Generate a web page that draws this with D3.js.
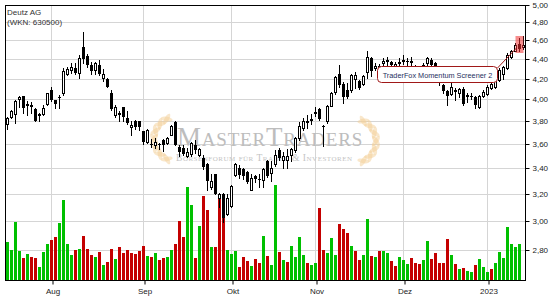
<!DOCTYPE html>
<html>
<head>
<meta charset="utf-8">
<script src="https://cdn.jsdelivr.net/npm/d3@7"></script>
<style>
  body { margin: 0; background: #fff; }
  svg { display: block; font-family: "Liberation Sans", Arial, sans-serif; }
</style>
</head>
<body>
<div id="chart"></div>
<script>
// Deutz AG daily candles, 15.07.2022 - 13.01.2023
var open = [
  3.77,3.835,3.86,4.005,4.03,3.96,3.95,3.91,3.86,3.86,
  3.96,4.09,3.995,4.025,4.06,4.25,4.29,4.31,4.255,4.53,
  4.43,4.34,4.29,4.34,4.205,4.20,4.06,3.855,3.87,3.925,
  3.83,3.745,3.80,3.80,3.715,3.615,3.60,3.595,3.60,3.635,
  3.605,3.68,3.795,3.575,3.57,3.495,3.515,3.595,3.505,3.485,
  3.43,3.255,3.35,3.165,3.20,3.05,3.11,3.345,3.405,3.395,
  3.37,3.23,3.335,3.31,3.305,3.46,3.36,3.43,3.55,3.465,
  3.465,3.505,3.55,3.65,3.74,3.79,3.815,3.875,3.91,3.76,
  3.80,3.94,4.07,4.245,4.145,4.09,4.09,4.195,4.18,4.145,
  4.27,4.41,4.305,4.31,4.36,4.38,4.37,4.33,4.36,4.39,
  4.38,4.38,4.32,4.30,4.34,4.36,4.39,4.36,4.27,4.14,
  4.08,4.05,4.09,4.06,4.10,4.04,4.03,4.02,3.93,4.03,
  4.05,4.11,4.12,4.19,4.25,4.31,4.42,4.49,4.56,4.53
];
var high = [
  3.84,3.90,3.99,4.03,4.03,3.985,3.98,3.915,3.87,3.95,
  4.065,4.12,3.995,4.04,4.31,4.32,4.36,4.36,4.44,4.69,
  4.45,4.37,4.37,4.39,4.30,4.21,4.09,3.95,3.89,3.925,
  3.89,3.80,3.81,3.80,3.715,3.73,3.645,3.65,3.61,3.645,
  3.66,3.765,3.80,3.595,3.59,3.565,3.62,3.635,3.565,3.505,
  3.44,3.355,3.35,3.205,3.205,3.20,3.265,3.445,3.425,3.40,
  3.375,3.355,3.345,3.35,3.40,3.465,3.455,3.55,3.565,3.535,
  3.555,3.57,3.66,3.795,3.83,3.855,3.86,3.93,3.92,3.765,
  3.95,4.075,4.23,4.34,4.17,4.155,4.25,4.265,4.19,4.24,
  4.49,4.42,4.355,4.35,4.41,4.42,4.38,4.37,4.41,4.44,
  4.41,4.42,4.34,4.33,4.36,4.42,4.41,4.37,4.28,4.15,
  4.09,4.17,4.11,4.11,4.115,4.06,4.06,4.03,4.04,4.09,
  4.14,4.18,4.21,4.31,4.33,4.46,4.50,4.57,4.63,4.65
];
var low = [
  3.73,3.83,3.78,3.93,3.87,3.855,3.875,3.80,3.80,3.855,
  3.95,3.985,3.92,3.92,4.04,4.24,4.26,4.245,4.205,4.36,
  4.32,4.245,4.245,4.24,4.18,4.12,3.90,3.84,3.80,3.80,
  3.77,3.68,3.73,3.72,3.60,3.61,3.575,3.565,3.56,3.54,
  3.60,3.675,3.595,3.495,3.51,3.49,3.495,3.52,3.50,3.395,
  3.225,3.235,3.195,3.10,2.995,3.045,3.10,3.34,3.32,3.315,
  3.28,3.225,3.29,3.255,3.255,3.33,3.30,3.415,3.465,3.405,
  3.405,3.455,3.53,3.635,3.72,3.735,3.77,3.85,3.81,3.58,
  3.785,3.935,4.05,4.115,3.965,4.015,4.075,4.11,4.10,4.14,
  4.21,4.23,4.29,4.29,4.33,4.34,4.31,4.30,4.33,4.35,
  4.33,4.32,4.27,4.27,4.31,4.34,4.33,4.29,4.14,4.06,
  3.95,4.04,3.99,4.02,3.95,3.98,4.00,3.92,3.92,4.02,
  4.04,4.10,4.11,4.18,4.20,4.30,4.41,4.48,4.48,4.51
];
var close = [
  3.83,3.89,3.985,4.02,3.92,3.94,3.925,3.80,3.845,3.915,
  4.06,3.995,3.955,4.015,4.28,4.30,4.32,4.255,4.41,4.40,
  4.34,4.28,4.355,4.245,4.245,4.12,3.91,3.93,3.875,3.835,
  3.78,3.765,3.75,3.75,3.615,3.72,3.59,3.615,3.59,3.595,
  3.655,3.755,3.595,3.53,3.515,3.535,3.61,3.55,3.555,3.41,
  3.30,3.30,3.20,3.195,3.02,3.165,3.26,3.435,3.345,3.335,
  3.29,3.325,3.31,3.305,3.395,3.335,3.405,3.505,3.48,3.495,
  3.50,3.555,3.655,3.755,3.80,3.805,3.82,3.88,3.815,3.755,
  3.94,4.06,4.215,4.135,4.025,4.025,4.235,4.24,4.105,4.225,
  4.42,4.275,4.33,4.33,4.38,4.39,4.34,4.35,4.37,4.37,
  4.37,4.36,4.30,4.31,4.33,4.41,4.34,4.31,4.16,4.08,
  4.03,4.12,4.075,4.10,3.96,4.02,4.025,3.95,4.03,4.07,
  4.115,4.15,4.19,4.29,4.32,4.44,4.49,4.55,4.51,4.55
];
// volume in 1000 shares, last day has none yet
var volume = [
  380,300,580,290,220,260,230,220,130,280,
  360,400,430,570,800,360,250,300,310,440,
  310,250,230,280,150,180,310,210,330,270,
  300,270,260,290,340,240,230,270,200,220,
  230,300,360,590,430,930,750,220,540,840,
  700,330,330,840,630,300,260,290,130,230,
  190,140,210,170,440,240,150,950,280,200,
  180,340,230,430,250,170,150,170,720,300,
  270,420,250,560,510,470,340,290,200,250,
  610,240,230,290,290,270,190,140,230,200,
  160,220,170,160,200,390,210,270,170,170,
  410,250,160,110,120,90,80,150,210,130,
  80,110,170,280,220,530,360,330,360,0
];
// g = up day, r = down day (volume colour)
var volDir = "ggggrgrrgg" + "grrggggrgr" + "rrgrgrrgrr" + "rrrrrgrgrr" + "ggrrrggrgr" +
             "rgrrrgggrr" + "rgrrgrggrg" + "rggggrggrr" + "gggrrrgrrg" + "grgrggrrgg" +
             "grrrggrrrr" + "rgrgrggrgg" + "grgggggggg";

var monthIndex = [11, 34, 56, 77, 99, 120];
var monthLabels = ["Aug", "Sep", "Okt", "Nov", "Dez", "2023"];
var yTicks = [2.8, 3.0, 3.2, 3.4, 3.6, 3.8, 4.0, 4.2, 4.4, 4.6, 4.8, 5.0];

var signalIndex = 128;
var signalLabel = "TraderFox Momentum Screener 2";

var svgWidth = 555, svgHeight = 300;
var plot = { left: 5, right: 525, top: 5, bottom: 280 };

var svg = d3.select("#chart").append("svg")
    .attr("width", svgWidth)
    .attr("height", svgHeight);

var x = d3.scaleBand()
    .domain(d3.range(open.length))
    .range([plot.left + 0.5, plot.right + 0.5])
    .padding(0);
var xc = function(i) { return x(i) + x.bandwidth() / 2; };

var y = d3.scaleLog()
    .domain([2.61, 5])
    .range([plot.bottom, plot.top])
    .interpolate(d3.interpolateRound);

var yVol = d3.scaleLinear()
    .domain([0, 1000])
    .range([plot.bottom, 180])
    .interpolate(d3.interpolateRound);

// grid
var grid = svg.append("g");
grid.selectAll(".hg").data(yTicks).enter().append("line")
    .attr("x1", plot.left).attr("x2", plot.right)
    .attr("y1", d => y(d) + 0.5).attr("y2", d => y(d) + 0.5)
    .attr("stroke", "#d5d5d5");
grid.selectAll(".vg").data(monthIndex).enter().append("line")
    .attr("x1", d => xc(d)).attr("x2", d => xc(d))
    .attr("y1", plot.top).attr("y2", plot.bottom)
    .attr("stroke", "#d5d5d5");

// watermark
var wm = svg.append("g");
function laurel(cx, cy, r, a0, a1, flip) {
  var n = 7;
  for (var k = 0; k < n; k++) {
    var a = (a0 + (a1 - a0) * k / (n - 1)) * Math.PI / 180;
    var px = cx + r * Math.cos(a), py = cy + r * Math.sin(a);
    var deg = a * 180 / Math.PI + 90;
    [-35, 35].forEach(function(t) {
      wm.append("ellipse")
        .attr("cx", px).attr("cy", py)
        .attr("rx", 6).attr("ry", 2.3)
        .attr("transform", "rotate(" + (deg + t * flip) + "," + px + "," + py + ")")
        .attr("fill", "#f4cf98")
        .attr("opacity", 0.5);
    });
  }
}
laurel(176, 139, 22, 115, 245, 1);
laurel(354, 141, 22, -65, 65, -1);
wm.append("text")
    .attr("x", 177).attr("y", 146)
    .attr("font-family", "'Liberation Serif','DejaVu Serif',serif")
    .attr("font-size", 27)
    .attr("font-variant", "small-caps")
    .attr("letter-spacing", 0.8)
    .attr("fill", "#bdbdbd")
    .text("MasterTraders");
wm.append("text")
    .attr("x", 176).attr("y", 161)
    .attr("font-family", "'Liberation Serif','DejaVu Serif',serif")
    .attr("font-size", 9.6)
    .attr("font-variant", "small-caps")
    .attr("letter-spacing", 0.5)
    .attr("fill", "#c4c4c4")
    .text("Börsenforum für Trader & Investoren");

// volume
svg.append("g").selectAll("rect")
    .data(volume)
    .enter().append("rect")
    .attr("x", (d, i) => x(i) + 0.5)
    .attr("width", 3)
    .attr("y", d => yVol(d))
    .attr("height", d => plot.bottom - yVol(d))
    .attr("fill", (d, i) => volDir[i] === "g" ? "#00c000" : "#c40000");

// candles
var candles = svg.append("g").selectAll("g")
    .data(open.map((o, i) => ({ i: i, o: o, h: high[i], l: low[i], c: close[i] })))
    .enter().append("g");

candles.append("line")
    .attr("x1", d => xc(d.i)).attr("x2", d => xc(d.i))
    .attr("y1", d => y(d.h)).attr("y2", d => y(d.l) + 1)
    .attr("stroke", "#000");

candles.append("rect")
    .attr("x", d => d.c >= d.o ? xc(d.i) - 1 : xc(d.i) - 1.5)
    .attr("width", d => d.c >= d.o ? 2 : 3)
    .attr("y", d => d.c >= d.o ? y(d.c) + 0.5 : y(d.o))
    .attr("height", d => d.c >= d.o ? Math.max(1, y(d.o) - y(d.c)) : Math.max(1, y(d.c) - y(d.o)))
    .attr("fill", d => d.c >= d.o ? "#fff" : "#000")
    .attr("stroke", d => d.c >= d.o ? "#000" : "none");

// signal highlight
var sx = xc(signalIndex);
svg.append("rect")
    .attr("x", sx - 4).attr("width", 8)
    .attr("y", y(high[signalIndex]) - 2)
    .attr("height", y(low[signalIndex]) - y(high[signalIndex]) + 4)
    .attr("fill", "#f03030")
    .attr("opacity", 0.55);

// annotation
var ann = svg.append("g");
var boxRight = sx - 22, boxTop = 66.5, boxH = 16;
var lbl = ann.append("text")
    .attr("font-size", 7.3)
    .attr("fill", "#26305e")
    .attr("text-anchor", "middle")
    .text(signalLabel);
var tw = lbl.node().getComputedTextLength();
var boxW = Math.round(tw + 10);
ann.insert("rect", "text")
    .attr("x", boxRight - boxW).attr("y", boxTop)
    .attr("width", boxW).attr("height", boxH)
    .attr("rx", 4)
    .attr("fill", "#fff")
    .attr("stroke", "#a01818");
lbl.attr("x", boxRight - boxW / 2).attr("y", boxTop + 11);
ann.append("line")
    .attr("x1", boxRight).attr("y1", boxTop + 1.5)
    .attr("x2", sx - 3).attr("y2", y(low[signalIndex]) - 3)
    .attr("stroke", "#a01818");

// frame
svg.append("rect")
    .attr("x", plot.left + 0.5).attr("y", plot.top + 0.5)
    .attr("width", plot.right - plot.left).attr("height", plot.bottom - plot.top)
    .attr("fill", "none")
    .attr("stroke", "#000");

// axes
var yAxis = d3.axisRight(y)
    .tickValues(yTicks)
    .tickSize(4)
    .tickPadding(3)
    .tickFormat(d => d.toFixed(2).replace(".", ","));
svg.append("g")
    .attr("transform", `translate(${plot.right + 0.5},0)`)
    .call(yAxis)
    .call(g => g.select(".domain").remove())
    .call(g => g.selectAll("text").attr("font-size", 8).attr("fill", "#222").attr("font-family", null));

var xAxis = d3.axisBottom(x)
    .tickValues(monthIndex)
    .tickSize(4)
    .tickPadding(4)
    .offset(0)
    .tickFormat((d, k) => monthLabels[k]);
svg.append("g")
    .attr("transform", `translate(${x.bandwidth() / 2 - 0.5},${plot.bottom + 0.5})`)
    .call(xAxis)
    .call(g => g.select(".domain").remove())
    .call(g => g.selectAll("text").attr("font-size", 8).attr("fill", "#222").attr("font-family", null));

// title
svg.append("text").attr("x", 7).attr("y", 15)
    .attr("font-size", 8).attr("fill", "#333")
    .text("Deutz AG");
svg.append("text").attr("x", 7).attr("y", 25)
    .attr("font-size", 8).attr("fill", "#333")
    .text("(WKN: 630500)");
</script>
</body>
</html>
